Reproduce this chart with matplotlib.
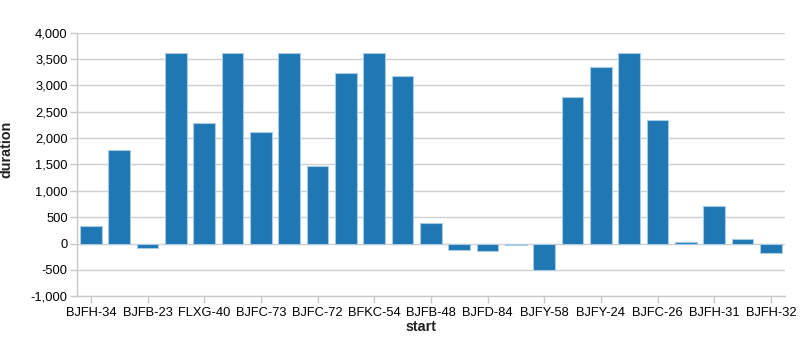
import matplotlib
matplotlib.use("Agg")
import matplotlib.pyplot as plt
import numpy as np

plt.rcParams['font.family'] = ['Liberation Sans', 'DejaVu Sans']

tick_labels = ["BJFH-34", "BJFB-23", "FLXG-40", "BJFC-73", "BJFC-72", "BFKC-54",
               "BJFB-48", "BJFD-84", "BJFY-58", "BJFY-24", "BJFC-26", "BJFH-31", "BJFH-32"]
durations = [330, 1780, -90, 3620, 2280, 3620, 2120, 3620, 1465, 3230, 3620, 3170,
             390, -120, -145, -30, -510, 2780, 3350, 3620, 2335, 30, 712, 90, -180]

fig = plt.figure(figsize=(8.12, 3.56), dpi=100)
ax = fig.add_axes([76.7/812, 59.7/356, (785-76.7)/812, (296.3-32.7)/356])

x = np.arange(len(durations))
ax.bar(x, durations, width=0.76, color='#1f77b4', edgecolor='#a9cbe6', linewidth=0.8, zorder=3)

ax.set_xlim(-0.5, len(durations) - 0.5)
ax.set_ylim(-1000, 4000)
ax.set_yticks(np.arange(-1000, 4001, 500))
ax.set_yticklabels([f"{v:,}" for v in range(-1000, 4001, 500)])
ax.set_xticks(x[::2])
ax.set_xticklabels(tick_labels)

ax.grid(axis='y', color='#d0d0d0', linewidth=1, zorder=0)
for s in ['top', 'right']:
    ax.spines[s].set_visible(False)
for s in ['left', 'bottom']:
    ax.spines[s].set_color('#c8c8c8')
    ax.spines[s].set_linewidth(1)
ax.tick_params(axis='both', colors='#c8c8c8', length=5, width=1, labelcolor='black', labelsize=9.3)
ax.tick_params(axis='x', pad=2.5)
ax.tick_params(axis='y', pad=1.5)

ax.set_xlabel('start', fontsize=10.3, fontweight='bold', color='#222222')
ax.set_ylabel('duration', fontsize=10.3, fontweight='bold', color='#222222')
ax.xaxis.set_label_coords(0.4868, -0.1165)
ax.xaxis.label.set_va('center')
ax.yaxis.set_label_coords(-0.0998, 0.557)
ax.yaxis.label.set_va('center')

fig.savefig('out.png', dpi=100)
